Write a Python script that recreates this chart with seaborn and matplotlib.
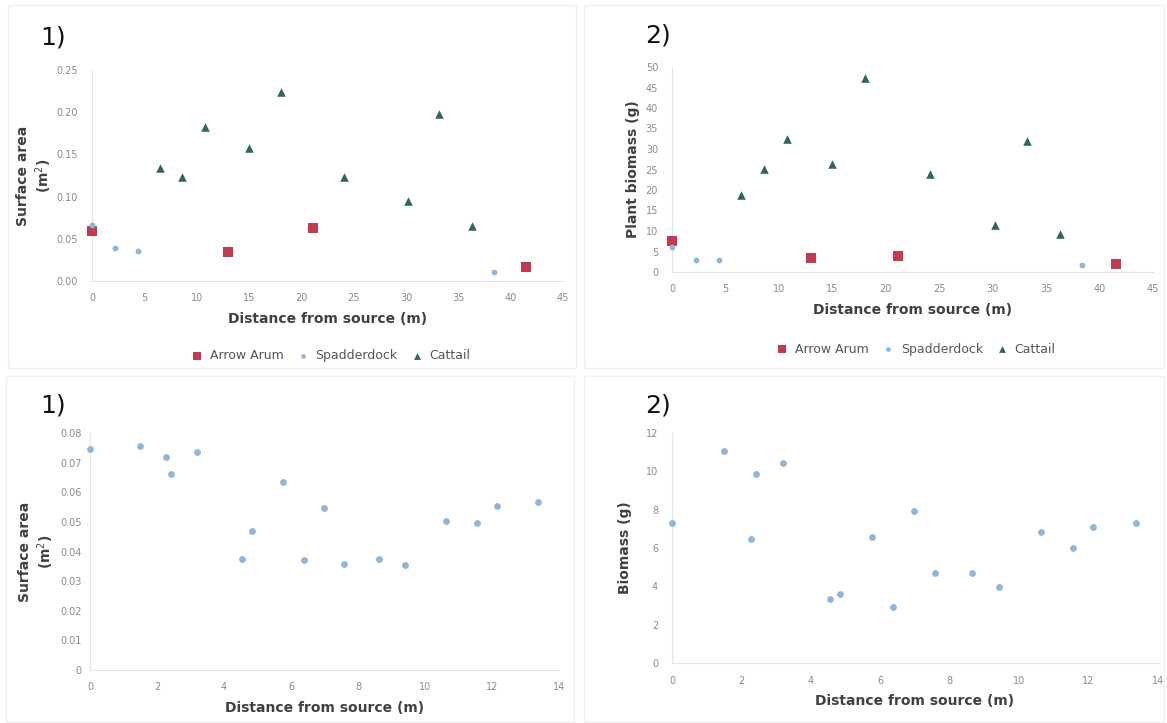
import matplotlib
matplotlib.use("Agg")
import matplotlib.pyplot as plt
import numpy as np
import pandas as pd
import seaborn as sns
from matplotlib.patches import Rectangle

sns.set_theme(style="white")
plt.rcParams["font.family"] = ["DejaVu Sans"]

# --- top panels: three species along the transect ---
arum_x = [0.0, 13.0, 21.1, 41.5]
arum_area = [0.059, 0.034, 0.063, 0.017]
arum_mass = [7.5, 3.5, 3.8, 1.9]

spad_x = [0.0, 2.2, 4.4, 38.4]
spad_area = [0.066, 0.039, 0.035, 0.011]
spad_mass = [6.1, 3.0, 3.0, 1.6]

cat_x = [6.5, 8.6, 10.8, 15.0, 18.1, 24.1, 30.2, 33.2, 36.3]
cat_area = [0.134, 0.123, 0.183, 0.158, 0.224, 0.123, 0.095, 0.198, 0.065]
cat_mass = [18.8, 25.2, 32.5, 26.3, 47.3, 24.0, 11.4, 32.0, 9.2]

# --- bottom panels: spadderdock only ---
sp_x = [0.0, 1.5, 2.28, 2.42, 3.2, 4.55, 4.85, 5.77, 6.38, 6.98, 7.59,
        8.64, 9.41, 10.63, 11.55, 12.14, 13.37]
sp_area = [0.0747, 0.0757, 0.0718, 0.0663, 0.0736, 0.0375, 0.0470, 0.0633, 0.0370,
           0.0546, 0.0358, 0.0375, 0.0355, 0.0504, 0.0496, 0.0552, 0.0567]
sp_mass = [7.3, 11.06, 6.45, 9.85, 10.46, 3.33, 3.6, 6.55, 2.91,
           7.92, 4.68, 4.72, 3.94, 6.81, 6.02, 7.11, 7.32]

RED, BLUE, GREEN = "#c23a50", "#8fb5db", "#2f6a4c"
TICK, LAB = "#8a8a8a", "#404040"

top = pd.concat([
    pd.DataFrame({"x": arum_x, "area": arum_area, "mass": arum_mass, "sp": "Arrow Arum"}),
    pd.DataFrame({"x": spad_x, "area": spad_area, "mass": spad_mass, "sp": "Spadderdock"}),
    pd.DataFrame({"x": cat_x, "area": cat_area, "mass": cat_mass, "sp": "Cattail"}),
])
bottom = pd.DataFrame({"x": sp_x, "area": sp_area, "mass": sp_mass})

pal = {"Arrow Arum": RED, "Spadderdock": BLUE, "Cattail": GREEN}
mk = {"Arrow Arum": "s", "Spadderdock": "o", "Cattail": "^"}
sz = {"Arrow Arum": 45, "Spadderdock": 18, "Cattail": 38}

W, H = 1167, 723
fig = plt.figure(figsize=(W / 100, H / 100), dpi=100)

# faint panel frames
for x0, y0, x1, y1 in [(8, 5, 576, 368), (584, 5, 1164, 368),
                       (6, 376, 574, 722), (584, 376, 1164, 722)]:
    fig.patches.append(Rectangle((x0 / W, 1 - y1 / H), (x1 - x0) / W, (y1 - y0) / H,
                                 transform=fig.transFigure, fill=False,
                                 edgecolor="#f0f0f0", linewidth=1.0))


def px_axes(l, r, b, t):
    return fig.add_axes([l / W, 1 - b / H, (r - l) / W, (b - t) / H])


def style(ax, xmax, xstep, ymax, ystep, yfmt, ypad=10):
    ax.set_xlim(0, xmax)
    ax.set_ylim(0, ymax)
    ax.set_xticks(np.arange(0, xmax + 0.01, xstep))
    yt = np.arange(0, ymax + ystep / 2, ystep)
    ax.set_yticks(yt)
    ax.set_yticklabels([yfmt(v) for v in yt])
    ax.tick_params(length=0, labelsize=7, colors=TICK)
    ax.tick_params(axis="y", pad=ypad)
    ax.tick_params(axis="x", pad=9)
    for s in ["top", "right"]:
        ax.spines[s].set_visible(False)
    for s in ["left", "bottom"]:
        ax.spines[s].set_color("#e4e4e4")
        ax.spines[s].set_linewidth(0.8)
    ax.set_xlabel("Distance from source (m)", fontsize=10, fontweight="bold",
                  color=LAB, labelpad=6)
    ax.grid(False)


def top_plot(ax, ycol):
    for name in ["Arrow Arum", "Spadderdock", "Cattail"]:
        d = top[top.sp == name]
        sns.scatterplot(data=d, x="x", y=ycol, ax=ax, color=pal[name],
                        marker=mk[name], s=sz[name], linewidth=0, label=name,
                        clip_on=False, zorder=3)
    ax.legend(loc="upper center", bbox_to_anchor=(0.5, -0.27), ncol=3,
              frameon=False, fontsize=9, handletextpad=0.05, columnspacing=0.5,
              markerscale=0.8, labelcolor="#555555")


# top-left
ax1 = px_axes(92, 563, 281, 70)
top_plot(ax1, "area")
style(ax1, 45, 5, 0.25, 0.05, lambda v: f"{v:.2f}")
ax1.set_ylabel("Surface area\n(m$^2$)", fontsize=10, fontweight="bold",
               color=LAB, labelpad=2)

# top-right
ax2 = px_axes(672, 1153, 272, 67)
top_plot(ax2, "mass")
style(ax2, 45, 5, 50, 5, lambda v: f"{v:.0f}")
ax2.set_ylabel("Plant biomass (g)", fontsize=10, fontweight="bold",
               color=LAB, labelpad=4)
ax2.legend_.set_bbox_to_anchor((0.5, -0.29))

# bottom-left
ax3 = px_axes(90, 559, 670, 433)
sns.scatterplot(data=bottom, x="x", y="area", ax=ax3, color=BLUE, s=24,
                linewidth=0, clip_on=False, zorder=3)
style(ax3, 14, 2, 0.08, 0.01, lambda v: "0" if v == 0 else f"{v:.2f}", ypad=6)
ax3.set_ylabel("Surface area\n(m$^2$)", fontsize=10, fontweight="bold",
               color=LAB, labelpad=3)

# bottom-right
ax4 = px_axes(672, 1158, 663, 433)
sns.scatterplot(data=bottom, x="x", y="mass", ax=ax4, color=BLUE, s=24,
                linewidth=0, clip_on=False, zorder=3)
style(ax4, 14, 2, 12, 2, lambda v: f"{v:.0f}")
ax4.set_ylabel("Biomass (g)", fontsize=10, fontweight="bold",
               color=LAB, labelpad=10)

# panel numbers
for txt, x, y in [("1)", 40, 38), ("2)", 645, 36), ("1)", 40, 405), ("2)", 645, 405)]:
    fig.text(x / W, 1 - y / H, txt, fontsize=18, color="#111111", va="center")

fig.savefig("out.png", dpi=100)
